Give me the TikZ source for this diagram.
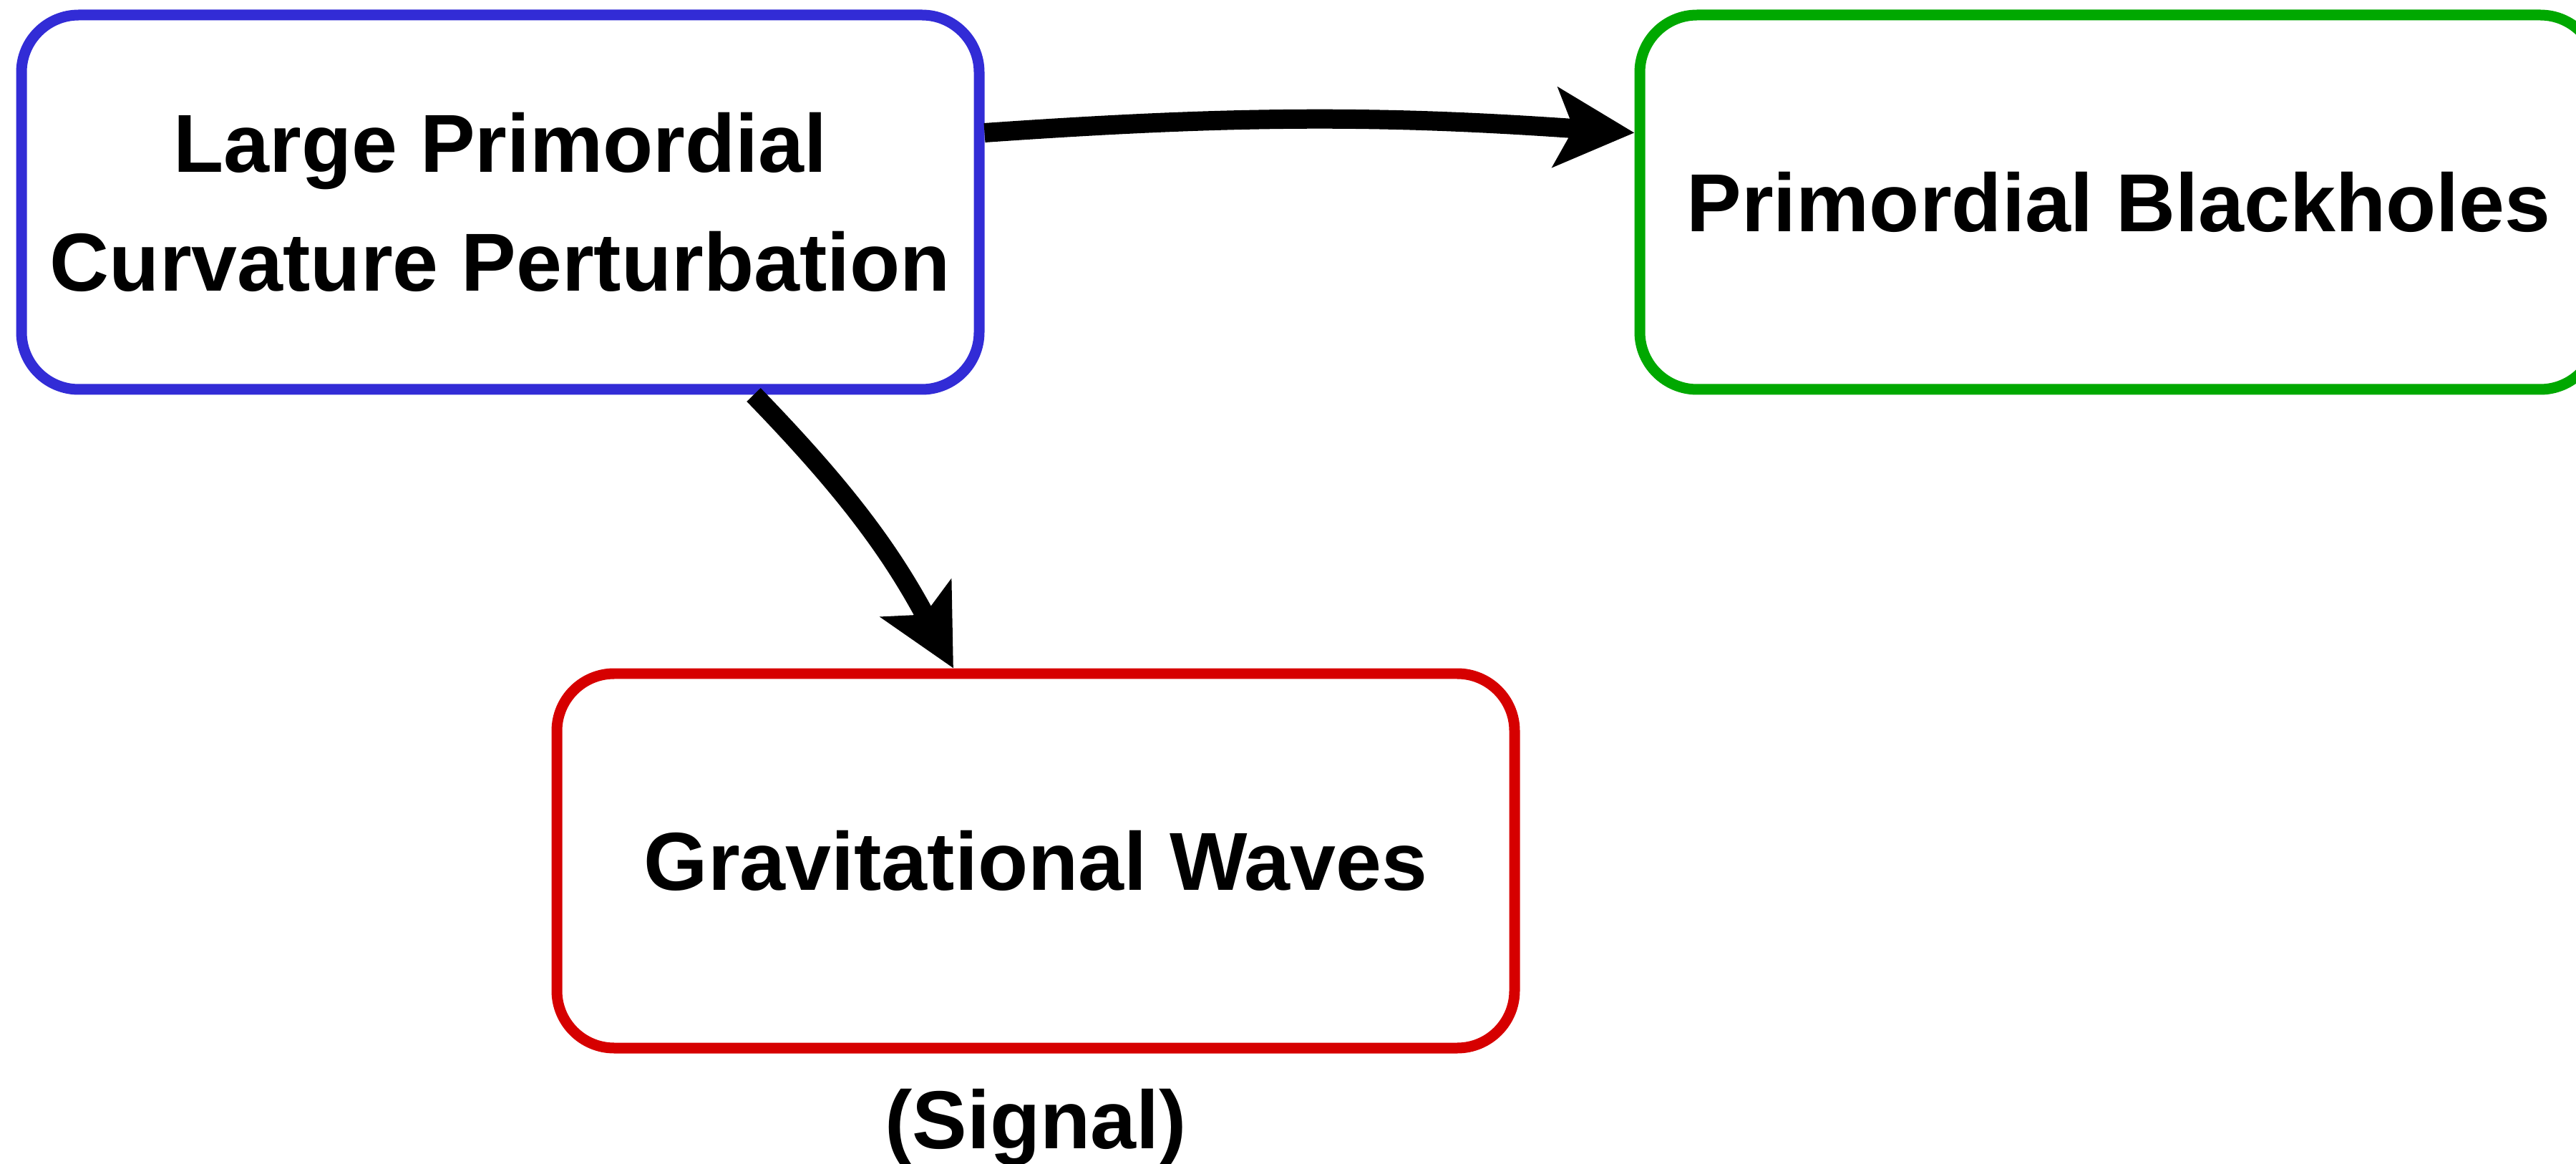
\documentclass[tikz,border=0pt]{standalone}
\usepackage{fontspec}
\setmainfont{Liberation Sans}
\usetikzlibrary{arrows.meta,positioning}
\definecolor{lpcblue}{RGB}{50,44,214}
\definecolor{pbhgreen}{RGB}{0,168,0}
\definecolor{gwred}{RGB}{214,0,0}

\begin{document}
\begin{tikzpicture}[font=\fontsize{32.7}{47.2}\selectfont\bfseries]
\tikzstyle{box}=[rectangle, rounded corners=0.8cm, line width=0.15cm, minimum width=13.38cm, minimum height=5.23cm, align=center, inner sep=0pt, text height=0.82cm, text depth=0pt]
\tikzstyle{arr}=[line width=0.27cm, -{Stealth[length=1.1cm, width=1.1cm, inset=0.25cm]}]
\useasboundingbox (0,0) rectangle (35.99,-16.26);
\node (lpc) [box, draw=lpcblue, text height=2.48cm] at (6.99,-2.825) {Large Primordial\\Curvature Perturbation};
\node (pbh) [box, draw=pbhgreen, right=9.08cm of lpc] {Primordial Blackholes};
\node (gw) [box, draw=gwred, below=3.82cm of lpc, xshift=7.48cm] {Gravitational Waves};
\node (sig) [anchor=base, inner sep=0pt] at ([yshift=-1.33cm]gw.south) {(Signal)};
\draw [arr] ([yshift=0.97cm]lpc.east) to[bend left=4] ([yshift=0.97cm]pbh.west);
\draw [arr] ([xshift=3.54cm]lpc.south) to[bend left=8] ([xshift=-1.15cm]gw.north);
\end{tikzpicture}
\end{document}
